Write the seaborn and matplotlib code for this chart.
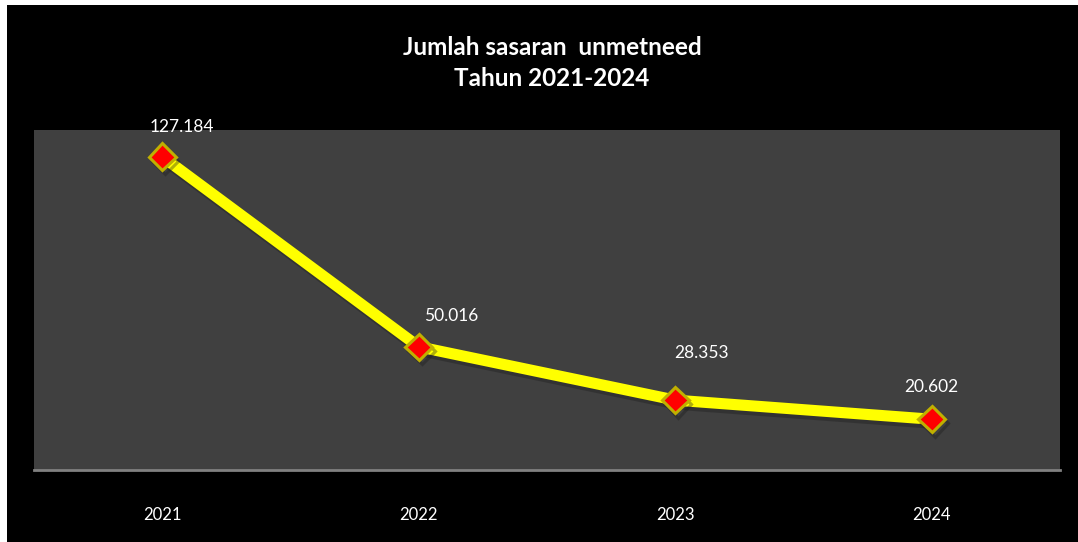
import pandas as pd
import matplotlib
matplotlib.use("Agg")
import matplotlib.pyplot as plt
import matplotlib.patches as mpatches
import matplotlib.patheffects as pe
import seaborn as sns

# data
years = ["2021", "2022", "2023", "2024"]
values = [127.184, 50.016, 28.353, 20.602]
value_labels = ["127.184", "50.016", "28.353", "20.602"]

title_text = "Jumlah sasaran  unmetneed\nTahun 2021-2024"

sns.set_theme(style="dark")
plt.rcParams["font.family"] = ["Lato", "DejaVu Sans"]

df = pd.DataFrame({"year": years, "value": values})

fig = plt.figure(figsize=(10.78, 5.42), dpi=100, facecolor="black")
# thin white strips on the left and top edge
fig.patches.append(mpatches.Rectangle((0, 0), 7 / 1078, 1, transform=fig.transFigure,
                                      facecolor="white", edgecolor="none", zorder=-10))
fig.patches.append(mpatches.Rectangle((0, 1 - 5 / 542), 1, 5 / 542, transform=fig.transFigure,
                                      facecolor="white", edgecolor="none", zorder=-10))

ax = fig.add_axes([34 / 1078, 72 / 542, 1026 / 1078, 340 / 542])
ax.set_facecolor("#404040")

sns.lineplot(data=df, x="year", y="value", ax=ax, color="#ffff00", linewidth=8,
             marker="D", markersize=13.5, markerfacecolor="#ff0000",
             markeredgecolor="#c0b000", markeredgewidth=2.2,
             path_effects=[pe.SimpleLineShadow(offset=(2, -3), alpha=0.35), pe.Normal()])

ax.set_xlim(-0.5, 3.5)
ax.set_ylim(0, 138)
ax.grid(False)
for side in ["top", "right", "left"]:
    ax.spines[side].set_visible(False)
ax.spines["bottom"].set_color("#808080")
ax.spines["bottom"].set_linewidth(2)
ax.set_yticks([])
ax.set_xlabel("")
ax.set_ylabel("")
ax.tick_params(axis="x", length=0, pad=27, colors="white", labelsize=12)

# value labels above each point
offsets = [(20, 30), (32, 31), (26, 47), (0, 32)]
for i, (v, lab) in enumerate(zip(values, value_labels)):
    ax.annotate(lab, (i, v), xytext=offsets[i], textcoords="offset pixels",
                ha="center", va="center", color="white", fontsize=12.5)

fig.text(552 / 1078, 1 - 63 / 542, title_text, ha="center", va="center",
         color="white", fontsize=17.5, fontweight="bold", linespacing=1.45)

fig.savefig("out.png", dpi=100, facecolor=fig.get_facecolor())
